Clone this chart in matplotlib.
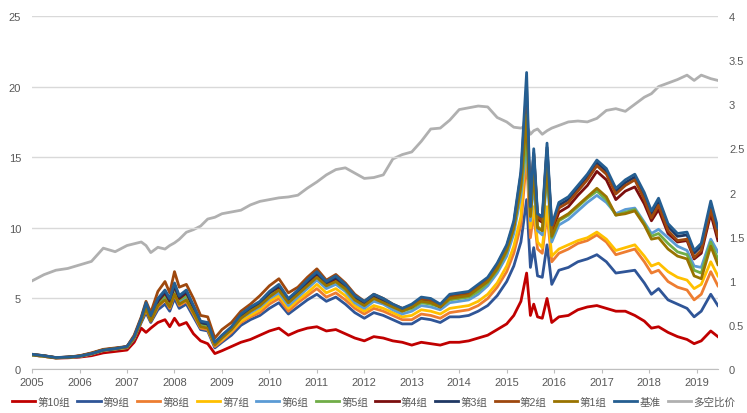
import matplotlib
matplotlib.use('Agg')
import matplotlib.pyplot as plt

plt.rcParams['font.family'] = ['Liberation Sans', 'Noto Sans CJK SC', 'DejaVu Sans']

# decimal years of the sampled points
dates = [2005.0, 2005.25, 2005.5, 2005.75, 2006.0, 2006.25, 2006.5, 2006.75,
         2007.0, 2007.15, 2007.3, 2007.4, 2007.5, 2007.65, 2007.8, 2007.9,
         2008.0, 2008.1, 2008.25, 2008.4, 2008.55, 2008.7, 2008.85,
         2009.0, 2009.2, 2009.4, 2009.6, 2009.8,
         2010.0, 2010.2, 2010.4, 2010.6, 2010.8,
         2011.0, 2011.2, 2011.4, 2011.6, 2011.8,
         2012.0, 2012.2, 2012.4, 2012.6, 2012.8,
         2013.0, 2013.2, 2013.4, 2013.6, 2013.8,
         2014.0, 2014.2, 2014.4, 2014.6, 2014.8,
         2015.0, 2015.15, 2015.3, 2015.42, 2015.5, 2015.57, 2015.65, 2015.75, 2015.85, 2015.95,
         2016.1, 2016.3, 2016.5, 2016.7, 2016.9,
         2017.1, 2017.3, 2017.5, 2017.7, 2017.9,
         2018.05, 2018.2, 2018.4, 2018.6, 2018.8, 2018.95,
         2019.1, 2019.3, 2019.45]

g10 = [1.0, 0.9, 0.78, 0.8, 0.85, 0.95, 1.15, 1.25, 1.35, 1.9, 2.9, 2.6, 2.9, 3.3, 3.5, 3.0,
       3.6, 3.1, 3.3, 2.5, 2.0, 1.8, 1.1, 1.3, 1.6, 1.9, 2.1, 2.4, 2.7, 2.9, 2.4, 2.7, 2.9,
       3.0, 2.7, 2.8, 2.5, 2.2, 2.0, 2.3, 2.2, 2.0, 1.9, 1.7, 1.9, 1.8, 1.7, 1.9, 1.9, 2.0,
       2.2, 2.4, 2.8, 3.2, 3.8, 4.8, 6.8, 3.8, 4.6, 3.7, 3.6, 5.0, 3.3, 3.7, 3.8, 4.2, 4.4,
       4.5, 4.3, 4.1, 4.1, 3.8, 3.4, 2.9, 3.0, 2.6, 2.3, 2.1, 1.8, 2.0, 2.7, 2.3]
g9 = [1.0, 0.9, 0.8, 0.82, 0.88, 1.05, 1.3, 1.4, 1.5, 2.1, 3.3, 4.0, 3.3, 4.2, 4.6, 4.1,
      5.0, 4.3, 4.6, 3.7, 2.8, 2.7, 1.5, 1.9, 2.4, 3.1, 3.5, 3.8, 4.3, 4.7, 3.9, 4.4, 4.9,
      5.3, 4.8, 5.1, 4.6, 4.0, 3.6, 4.0, 3.8, 3.5, 3.2, 3.2, 3.6, 3.5, 3.3, 3.7, 3.7, 3.8,
      4.1, 4.5, 5.2, 6.2, 7.3, 9.0, 12.0, 7.2, 8.6, 6.6, 6.5, 8.8, 6.0, 7.0, 7.2, 7.6, 7.8,
      8.1, 7.6, 6.8, 6.9, 7.0, 6.1, 5.3, 5.7, 4.9, 4.6, 4.3, 3.7, 4.1, 5.3, 4.5]
g8 = [1.0, 0.9, 0.8, 0.83, 0.9, 1.07, 1.32, 1.42, 1.52, 2.2, 3.4, 4.2, 3.4, 4.4, 4.9, 4.3,
      5.3, 4.5, 4.8, 3.9, 2.9, 2.8, 1.6, 2.0, 2.6, 3.3, 3.7, 4.0, 4.6, 5.0, 4.1, 4.7, 5.2,
      5.7, 5.1, 5.4, 4.9, 4.3, 3.9, 4.3, 4.1, 3.8, 3.5, 3.5, 3.9, 3.8, 3.6, 4.0, 4.1, 4.2,
      4.5, 5.0, 5.8, 6.9, 8.2, 10.2, 15.0, 9.3, 11.0, 8.5, 8.2, 11.0, 7.6, 8.2, 8.5, 8.9, 9.1,
      9.5, 9.0, 8.1, 8.3, 8.5, 7.6, 6.8, 7.0, 6.2, 5.8, 5.6, 4.9, 5.3, 6.9, 5.9]
g7 = [1.0, 0.9, 0.8, 0.83, 0.9, 1.08, 1.33, 1.43, 1.53, 2.2, 3.5, 4.3, 3.5, 4.5, 5.0, 4.4,
      5.4, 4.6, 4.9, 4.0, 3.0, 2.9, 1.7, 2.1, 2.7, 3.4, 3.8, 4.2, 4.8, 5.2, 4.3, 4.9, 5.4,
      6.0, 5.4, 5.7, 5.2, 4.5, 4.1, 4.5, 4.3, 4.0, 3.7, 3.8, 4.2, 4.1, 3.9, 4.3, 4.4, 4.5,
      4.8, 5.3, 6.1, 7.3, 8.7, 10.8, 16.5, 10.0, 11.5, 9.0, 8.6, 11.5, 8.0, 8.5, 8.8, 9.1, 9.3,
      9.7, 9.2, 8.4, 8.6, 8.8, 8.0, 7.3, 7.5, 6.9, 6.5, 6.3, 5.7, 6.0, 7.6, 6.6]
g6 = [1.0, 0.92, 0.8, 0.84, 0.92, 1.1, 1.35, 1.45, 1.55, 2.25, 3.5, 4.4, 3.6, 4.6, 5.1, 4.5,
      5.6, 4.8, 5.1, 4.1, 3.1, 3.0, 1.75, 2.2, 2.8, 3.6, 4.0, 4.4, 5.0, 5.4, 4.5, 5.1, 5.7,
      6.3, 5.7, 6.0, 5.5, 4.7, 4.3, 4.8, 4.6, 4.2, 3.9, 4.1, 4.5, 4.4, 4.2, 4.7, 4.8, 4.9,
      5.3, 5.9, 6.8, 8.0, 9.6, 12.3, 16.0, 10.5, 13.2, 9.8, 9.5, 13.8, 9.0, 10.2, 10.6, 11.2, 11.8,
      12.3, 11.8, 11.0, 11.3, 11.4, 10.4, 9.6, 9.9, 9.3, 8.7, 8.4, 7.3, 7.2, 9.2, 8.3]
g5 = [1.0, 0.92, 0.8, 0.84, 0.92, 1.1, 1.36, 1.46, 1.56, 2.25, 3.5, 4.4, 3.6, 4.7, 5.2, 4.6,
      5.8, 4.9, 5.2, 4.2, 3.2, 3.1, 1.8, 2.3, 2.9, 3.7, 4.2, 4.6, 5.2, 5.6, 4.7, 5.3, 5.9,
      6.5, 5.9, 6.2, 5.6, 4.9, 4.5, 5.0, 4.8, 4.4, 4.1, 4.3, 4.7, 4.6, 4.4, 4.9, 5.0, 5.1,
      5.5, 6.1, 7.0, 8.3, 10.0, 12.8, 16.5, 10.9, 13.8, 10.1, 9.8, 14.2, 9.3, 10.5, 10.9, 11.5, 12.1,
      12.6, 12.0, 10.9, 11.1, 11.3, 10.3, 9.4, 9.6, 8.9, 8.3, 8.1, 7.0, 6.8, 9.0, 7.8]
g4 = [1.03, 0.94, 0.81, 0.85, 0.93, 1.12, 1.37, 1.47, 1.58, 2.3, 3.5, 4.6, 3.7, 4.8, 5.4, 4.8,
      5.9, 5.0, 5.4, 4.4, 3.3, 3.2, 1.85, 2.35, 2.9, 3.8, 4.3, 4.7, 5.4, 5.8, 4.9, 5.5, 6.1,
      6.7, 6.0, 6.4, 5.8, 5.0, 4.6, 5.1, 4.8, 4.5, 4.2, 4.4, 4.9, 4.8, 4.4, 5.1, 5.2, 5.3,
      5.8, 6.3, 7.3, 8.6, 10.2, 13.5, 19.0, 11.2, 14.8, 10.6, 10.4, 15.2, 9.7, 11.1, 11.5, 12.3, 13.0,
      14.0, 13.4, 12.0, 12.6, 12.9, 11.7, 10.5, 11.3, 9.6, 9.0, 9.1, 7.8, 8.2, 11.0, 9.1]
g3 = [1.04, 0.94, 0.81, 0.85, 0.92, 1.1, 1.35, 1.45, 1.6, 2.3, 3.6, 4.6, 3.7, 4.9, 5.5, 4.9,
      6.0, 5.1, 5.5, 4.4, 3.3, 3.2, 1.85, 2.35, 2.9, 3.8, 4.3, 4.7, 5.4, 5.9, 4.9, 5.5, 6.2,
      6.8, 6.1, 6.5, 5.9, 5.1, 4.7, 5.2, 4.9, 4.5, 4.2, 4.5, 5.0, 4.9, 4.5, 5.2, 5.3, 5.4,
      5.9, 6.4, 7.4, 8.7, 10.3, 13.8, 20.0, 11.3, 15.3, 10.8, 10.6, 15.7, 10.0, 11.6, 12.0, 12.8, 13.6,
      14.6, 14.0, 12.6, 13.2, 13.6, 12.3, 11.0, 11.9, 10.1, 9.4, 9.5, 8.2, 8.7, 11.6, 9.7]
g2 = [1.05, 0.95, 0.82, 0.85, 0.95, 1.15, 1.4, 1.5, 1.6, 2.4, 3.7, 4.8, 4.0, 5.5, 6.2, 5.4,
      6.9, 5.8, 6.0, 5.0, 3.8, 3.7, 2.2, 2.8, 3.3, 4.1, 4.6, 5.2, 5.9, 6.4, 5.4, 5.8, 6.5,
      7.1, 6.3, 6.7, 6.1, 5.3, 4.8, 5.3, 5.0, 4.6, 4.3, 4.5, 5.0, 4.9, 4.5, 5.1, 5.2, 5.3,
      5.8, 6.3, 7.3, 8.6, 10.2, 13.5, 18.5, 11.8, 15.2, 10.8, 10.5, 15.5, 9.9, 11.4, 11.8, 12.6, 13.4,
      14.4, 13.8, 12.4, 13.0, 13.4, 12.0, 10.7, 11.6, 9.8, 9.1, 9.2, 7.9, 8.4, 11.3, 9.4]
g1 = [1.02, 0.93, 0.8, 0.84, 0.92, 1.1, 1.35, 1.45, 1.55, 2.2, 3.4, 4.3, 3.4, 4.5, 4.9, 4.4,
      5.3, 4.6, 4.9, 4.0, 3.0, 2.9, 1.7, 2.2, 2.8, 3.6, 4.1, 4.5, 5.1, 5.6, 4.7, 5.3, 5.9,
      6.5, 5.9, 6.2, 5.7, 4.9, 4.5, 5.0, 4.7, 4.4, 4.1, 4.4, 4.8, 4.7, 4.4, 5.0, 5.1, 5.2,
      5.7, 6.2, 7.1, 8.4, 10.0, 13.0, 18.0, 10.8, 14.0, 10.0, 9.8, 14.5, 9.4, 10.6, 11.0, 11.6, 12.2,
      12.8, 12.2, 10.9, 11.0, 11.2, 10.2, 9.2, 9.3, 8.5, 8.0, 7.8, 6.6, 6.4, 8.7, 7.4]
bench = [1.05, 0.95, 0.82, 0.85, 0.92, 1.1, 1.35, 1.45, 1.6, 2.3, 3.6, 4.7, 3.8, 5.0, 5.6, 5.0,
         6.1, 5.2, 5.6, 4.5, 3.4, 3.3, 1.9, 2.4, 3.0, 3.9, 4.4, 4.8, 5.5, 6.0, 5.0, 5.6, 6.3,
         6.9, 6.2, 6.6, 6.0, 5.2, 4.8, 5.3, 5.0, 4.6, 4.3, 4.6, 5.1, 5.0, 4.6, 5.3, 5.4, 5.5,
         6.0, 6.5, 7.5, 8.8, 10.5, 14.0, 21.0, 11.5, 15.6, 11.0, 10.8, 16.0, 10.2, 11.8, 12.2, 13.0, 13.8,
         14.8, 14.2, 12.8, 13.4, 13.8, 12.5, 11.2, 12.1, 10.3, 9.6, 9.7, 8.4, 8.9, 11.9, 10.0]
# long/short ratio, right axis
ratio = [1.00, 1.07, 1.12, 1.14, 1.18, 1.22, 1.37, 1.33, 1.40, 1.42, 1.44, 1.40, 1.32, 1.38, 1.36, 1.40,
         1.43, 1.47, 1.55, 1.58, 1.62, 1.70, 1.72, 1.76, 1.78, 1.80, 1.86, 1.90, 1.92, 1.94, 1.95, 1.97, 2.05,
         2.12, 2.20, 2.26, 2.28, 2.22, 2.16, 2.17, 2.20, 2.38, 2.43, 2.46, 2.58, 2.72, 2.73, 2.82, 2.94, 2.96,
         2.98, 2.97, 2.85, 2.80, 2.74, 2.73, 2.76, 2.66, 2.70, 2.72, 2.66, 2.70, 2.73, 2.76, 2.80, 2.81, 2.80,
         2.84, 2.93, 2.95, 2.92, 3.00, 3.08, 3.12, 3.20, 3.24, 3.28, 3.33, 3.27, 3.33, 3.29, 3.27]

names = ['第10组', '第9组', '第8组', '第7组', '第6组', '第5组',
         '第4组', '第3组', '第2组', '第1组', '基准']
series = [g10, g9, g8, g7, g6, g5, g4, g3, g2, g1, bench]
colors = ['#C00000', '#2F5597', '#ED7D31', '#FFC000', '#5B9BD5', '#70AD47',
          '#7B0E0E', '#1F3864', '#9E480E', '#997300', '#255E91']

fig = plt.figure(figsize=(7.47, 4.14), dpi=100)
ax = fig.add_axes([0.043, 0.106, 0.918, 0.853])
ax2 = ax.twinx()

lines = []
for name, vals, c in zip(names, series, colors):
    l, = ax.plot(dates, vals, color=c, lw=2.0, label=name)
    lines.append(l)
l, = ax2.plot(dates, ratio, color='#B0B0B0', lw=2.0, label='多空比价')
lines.append(l)

# keep the gray ratio line under the groups
ax2.set_zorder(ax.get_zorder() - 1)
ax.patch.set_visible(False)

ax.set_xlim(2005, 2019.45)
ax.set_ylim(0, 25)
ax2.set_ylim(0, 4)
ax.set_yticks(range(0, 26, 5))
ax2.set_yticks([0, 0.5, 1, 1.5, 2, 2.5, 3, 3.5, 4])
ax2.set_yticklabels(['0', '0.5', '1', '1.5', '2', '2.5', '3', '3.5', '4'])
ax.set_xticks(range(2005, 2020))

ax.grid(axis='y', color='#D9D9D9', lw=1)
ax.set_axisbelow(True)
for a in (ax, ax2):
    for s in ['top', 'left', 'right']:
        a.spines[s].set_visible(False)
ax2.spines['bottom'].set_visible(False)
ax.spines['bottom'].set_color('#BFBFBF')
ax.tick_params(axis='y', length=0, pad=8, labelsize=8, labelcolor='#595959')
ax2.tick_params(axis='y', length=0, pad=8, labelsize=8, labelcolor='#595959')
ax.tick_params(axis='x', length=3, color='#BFBFBF', pad=3, labelsize=8, labelcolor='#595959')

fig.legend(handles=lines, loc='center', bbox_to_anchor=(0.5, 0.028), ncol=12,
           frameon=False, fontsize=7.6, handlelength=2.2, handletextpad=0.2,
           columnspacing=0.7, labelcolor='#595959', borderaxespad=0, borderpad=0)

fig.savefig('out.png', dpi=100)
